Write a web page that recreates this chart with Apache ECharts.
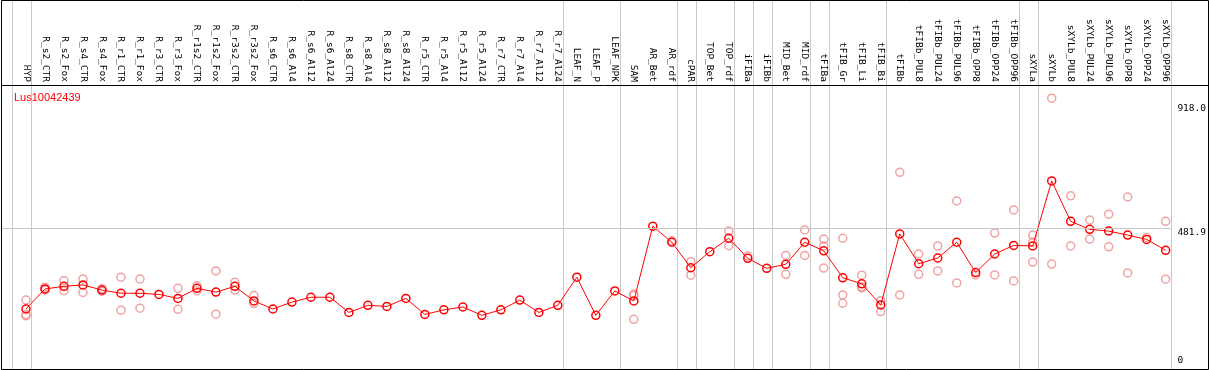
<!DOCTYPE html>
<html>
<head>
<meta charset="utf-8">
<style>
  html, body { margin: 0; padding: 0; background: #fff; }
  #chart { width: 1209px; height: 370px; }
</style>
<script src="https://cdn.jsdelivr.net/npm/echarts/dist/echarts.min.js"></script>
</head>
<body>
<div id="chart"></div>
<script>
// sample names along the top
const categories = [
  'HYP', 'R_s2_CTR', 'R_s2_Fox', 'R_s4_CTR', 'R_s4_Fox', 'R_r1_CTR', 'R_r1_Fox', 'R_r3_CTR', 'R_r3_Fox',
  'R_r1s2_CTR', 'R_r1s2_Fox', 'R_r3s2_CTR', 'R_r3s2_Fox', 'R_s6_CTR', 'R_s6_Al4', 'R_s6_Al12', 'R_s6_Al24',
  'R_s8_CTR', 'R_s8_Al4', 'R_s8_Al12', 'R_s8_Al24', 'R_r5_CTR', 'R_r5_Al4', 'R_r5_Al12', 'R_r5_Al24',
  'R_r7_CTR', 'R_r7_Al4', 'R_r7_Al12', 'R_r7_Al24', 'LEAF_N', 'LEAF_P', 'LEAF_NPK', 'SAM', 'AR_Bet', 'AR_rdf',
  'cPAR', 'TOP_Bet', 'TOP_rdf', 'iFIBa', 'iFIBb', 'MID_Bet', 'MID_rdf', 'tFIBa', 'tFIB_Gr', 'tFIB_Li', 'tFIB_Bi',
  'tFIBb', 'tFIBb_PUL8', 'tFIBb_PUL24', 'tFIBb_PUL96', 'tFIBb_OPP8', 'tFIBb_OPP24', 'tFIBb_OPP96',
  'sXYLa', 'sXYLb', 'sXYLb_PUL8', 'sXYLb_PUL24', 'sXYLb_PUL96', 'sXYLb_OPP8', 'sXYLb_OPP24', 'sXYLb_OPP96'
];

// mean expression per sample
const means = [
  199, 269, 278, 283, 265, 254, 254, 250, 236, 271, 258, 278, 227, 199, 223, 240, 240,
  187, 212, 208, 236, 180, 196, 206, 177, 196, 230, 187, 212, 310, 177, 262, 227, 488, 432,
  343, 399, 446, 376, 341, 355, 432, 402, 308, 287, 213,
  461, 357, 377, 432, 326, 391, 421,
  419, 646, 505, 477, 471, 457, 442, 404
];

// individual replicates (only the ones that stand apart from the mean)
const replicates = [
  [230, 180, 175], [275, 265], [298, 263], [304, 257], [270, 261], [310, 195], [304, 202], [], [271, 198],
  [280, 263], [332, 181], [292, 265], [246, 218], [], [], [], [],
  [], [], [], [], [], [], [], [],
  [], [], [], [], [], [], [], [251, 246, 163], [], [437],
  [364, 317], [], [471, 420], [384], [], [386, 320], [475, 386], [443, 419, 342], [446, 248, 219], [317, 277, 273], [228, 190],
  [676, 248], [391, 320], [419, 332], [576, 290], [318], [464, 318], [545, 297],
  [457, 432, 363], [935, 356], [594, 419], [510, 443], [530, 416], [590, 325], [449], [505, 303]
];

// index of the last sample of each group (-1 = before the first)
const groupEnds = [-1, 0, 28, 31, 34, 35, 37, 38, 39, 41, 42, 45, 52, 53, 60];

// right axis labels
const yLabelsTop = [481.9, 918.0];
const yLabelsBottom = [0];

const chart = echarts.init(document.getElementById('chart'));

const xMin = -25 / 19;
const xMax = 60.25;
const yMin = -10.5;
const yMax = 981;
const mono = 'DejaVu Sans Mono';

const repData = [];
replicates.forEach((list, i) => list.forEach(v => repData.push([i, v])));

const option = {
  animation: false,
  title: {
    text: 'Lus10042439',
    left: 9,
    top: 87,
    textStyle: { color: '#ff0000', fontSize: 11, fontWeight: 'normal', fontFamily: 'Liberation Sans' }
  },
  grid: [
    { left: 1, right: 38.25, top: 85, bottom: 1 },
    { left: 1, right: 38.25, top: 0, bottom: 1 }
  ],
  xAxis: [
    {
      gridIndex: 0,
      type: 'value',
      position: 'top',
      min: xMin,
      max: xMax,
      axisLine: { show: false, onZero: false },
      axisTick: { show: false },
      splitLine: { show: false },
      axisLabel: {
        customValues: categories.map((_, i) => i),
        formatter: v => categories[Math.round(v)],
        rotate: 90,
        margin: 3,
        fontFamily: mono,
        fontSize: 9.5,
        color: '#000'
      }
    },
    {
      gridIndex: 1,
      type: 'value',
      min: xMin,
      max: xMax,
      show: false,
      axisLine: { onZero: false }
    }
  ],
  yAxis: [
    {
      gridIndex: 0,
      type: 'value',
      position: 'right',
      min: yMin,
      max: yMax,
      axisLine: { show: false, onZero: false },
      axisTick: { show: false },
      splitLine: { show: false },
      axisLabel: {
        customValues: yLabelsTop,
        formatter: v => v.toFixed(1),
        verticalAlign: 'top',
        margin: 7,
        fontFamily: mono,
        fontSize: 9.5,
        color: '#000'
      }
    },
    {
      gridIndex: 0,
      type: 'value',
      position: 'right',
      min: yMin,
      max: yMax,
      axisLine: { show: false, onZero: false },
      axisTick: { show: false },
      splitLine: { show: false },
      axisLabel: {
        customValues: yLabelsBottom,
        formatter: v => String(v),
        verticalAlign: 'bottom',
        margin: 7,
        fontFamily: mono,
        fontSize: 9.5,
        color: '#000'
      }
    },
    {
      gridIndex: 1,
      type: 'value',
      min: 0,
      max: 1,
      show: false,
      axisLine: { onZero: false }
    }
  ],
  series: [
    {
      // group separators, full height
      type: 'custom',
      xAxisIndex: 1,
      yAxisIndex: 2,
      silent: true,
      z: 0,
      data: groupEnds.map(v => [v, 0]),
      renderItem: (params, api) => {
        const p0 = api.coord([api.value(0) + 0.25, 0]);
        const p1 = api.coord([api.value(0) + 0.25, 1]);
        const x = Math.round(p0[0]) + 0.5;
        return {
          type: 'line',
          shape: { x1: x, y1: p0[1], x2: x, y2: p1[1] },
          style: { stroke: '#c8c8c8', lineWidth: 1 }
        };
      }
    },
    {
      name: 'replicates',
      type: 'scatter',
      xAxisIndex: 0,
      yAxisIndex: 0,
      symbol: 'circle',
      symbolSize: 8,
      z: 2,
      itemStyle: { color: 'rgba(0,0,0,0)', borderColor: '#ee8c8c', borderWidth: 1.5 },
      data: repData
    },
    {
      name: 'mean',
      type: 'line',
      xAxisIndex: 0,
      yAxisIndex: 0,
      symbol: 'circle',
      symbolSize: 8,
      z: 3,
      lineStyle: { color: '#ff0000', width: 1 },
      itemStyle: { color: 'rgba(0,0,0,0)', borderColor: '#ff0000', borderWidth: 1.5 },
      data: means.map((v, i) => [i, v]),
      markLine: {
        silent: true,
        symbol: 'none',
        label: { show: false },
        lineStyle: { color: '#c8c8c8', type: 'solid', width: 1 },
        data: [{ yAxis: yLabelsTop[0] }]
      }
    }
  ],
  graphic: [
    {
      type: 'rect',
      z: 100,
      shape: { x: 1.5, y: 0.5, width: 1207, height: 369 },
      style: { fill: 'none', stroke: '#000', lineWidth: 1 }
    },
    {
      type: 'line',
      z: 100,
      shape: { x1: 1, y1: 85.5, x2: 1208, y2: 85.5 },
      style: { stroke: '#000', lineWidth: 1 }
    }
  ]
};

chart.setOption(option);
</script>
</body>
</html>
